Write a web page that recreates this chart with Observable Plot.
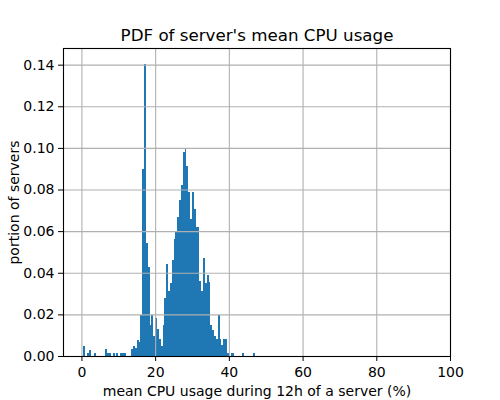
<!DOCTYPE html>
<html>
<head>
<meta charset="utf-8">
<script src="https://cdn.jsdelivr.net/npm/d3@7"></script>
<script src="https://cdn.jsdelivr.net/npm/@observablehq/plot@0.6"></script>
<style>
  html, body { margin: 0; padding: 0; background: white; }
</style>
</head>
<body>
<div id="chart"></div>
<script>
// Histogram bins (left edge, width 0.5) and their density ("portion of servers")
const binStart = [
  0.5, 1.5, 2.0, 3.5, 6.5, 7.0, 7.5, 8.5, 9.5, 10.5, 11.0, 11.5,
  13.5, 14.0, 14.5, 15.0, 15.5, 16.0, 16.5, 17.0, 17.5, 18.0, 18.5, 19.0, 19.5,
  20.0, 20.5, 21.0, 21.5, 22.0, 22.5, 23.0, 23.5, 24.0, 24.5, 25.0, 25.5, 26.0, 26.5,
  27.0, 27.5, 28.0, 28.5, 29.0, 29.5, 30.0, 30.5, 31.0, 31.5, 32.0, 32.5, 33.0, 33.5,
  34.0, 34.5, 35.0, 35.5, 36.0, 36.5, 37.0, 37.5, 38.0, 38.5, 39.0, 39.5,
  40.5, 41.0, 43.5, 46.5
];
const portion = [
  0.0048, 0.0013, 0.0030, 0.0013, 0.0034, 0.0013, 0.0013, 0.0013, 0.0013, 0.0013, 0.0013, 0.0013,
  0.0034, 0.0048, 0.0037, 0.0075, 0.0066, 0.0197, 0.0900, 0.1405, 0.0544, 0.0426, 0.0150, 0.0197, 0.0098,
  0.0184, 0.0128, 0.0080, 0.0050, 0.0150, 0.0280, 0.0440, 0.0310, 0.0350, 0.0460, 0.0560, 0.0600, 0.0670, 0.0750,
  0.0820, 0.0980, 0.0994, 0.0915, 0.0790, 0.0660, 0.0789, 0.0706, 0.0620, 0.0620, 0.0360, 0.0310, 0.0470, 0.0350,
  0.0390, 0.0355, 0.0150, 0.0125, 0.0096, 0.0080, 0.0197, 0.0080, 0.0053, 0.0080, 0.0080, 0.0013,
  0.0013, 0.0013, 0.0013, 0.0013
];
const binWidth = 0.5;
const xTicks = [0, 20, 40, 60, 80, 100];
const yTicks = [0, 0.02, 0.04, 0.06, 0.08, 0.10, 0.12, 0.14];
const titleText = "PDF of server's mean CPU usage";
const xLabel = "mean CPU usage during 12h of a server (%)";
const yLabel = "portion of servers";

const bins = binStart.map((x, i) => ({x1: x, x2: x + binWidth, y: portion[i]}));

const chart = Plot.plot({
  width: 500,
  height: 400,
  marginLeft: 63,
  marginRight: 50,
  marginTop: 48,
  marginBottom: 44,
  style: {fontFamily: "DejaVu Sans", fontSize: "14px", background: "white", color: "black"},
  x: {domain: [-5, 100]},
  y: {domain: [0, 0.148]},
  marks: [
    Plot.rectY(bins, {x1: "x1", x2: "x2", y1: 0, y2: "y", fill: "#1f77b4", inset: 0, shapeRendering: "crispEdges"}),
    Plot.ruleX(xTicks, {stroke: "#b0b0b0", strokeWidth: 1.1}),
    Plot.ruleY(yTicks, {stroke: "#b0b0b0", strokeWidth: 1.1}),
    Plot.frame({stroke: "black", strokeWidth: 1.1}),
    Plot.axisX({ticks: xTicks, tickSize: 5, tickPadding: 6, label: null, fontSize: 14}),
    Plot.axisY({ticks: yTicks, tickFormat: d3.format(".2f"), tickSize: 5, tickPadding: 4, label: null, fontSize: 14}),
    Plot.text([titleText], {frameAnchor: "top", lineAnchor: "middle", dy: -13, fontSize: 16.7}),
    Plot.text([xLabel], {frameAnchor: "bottom", lineAnchor: "middle", dy: 35, fontSize: 14}),
    Plot.text([yLabel], {frameAnchor: "left", textAnchor: "middle", lineAnchor: "middle", dx: -49, rotate: -90, fontSize: 14})
  ]
});
document.getElementById("chart").appendChild(chart);
</script>
</body>
</html>
